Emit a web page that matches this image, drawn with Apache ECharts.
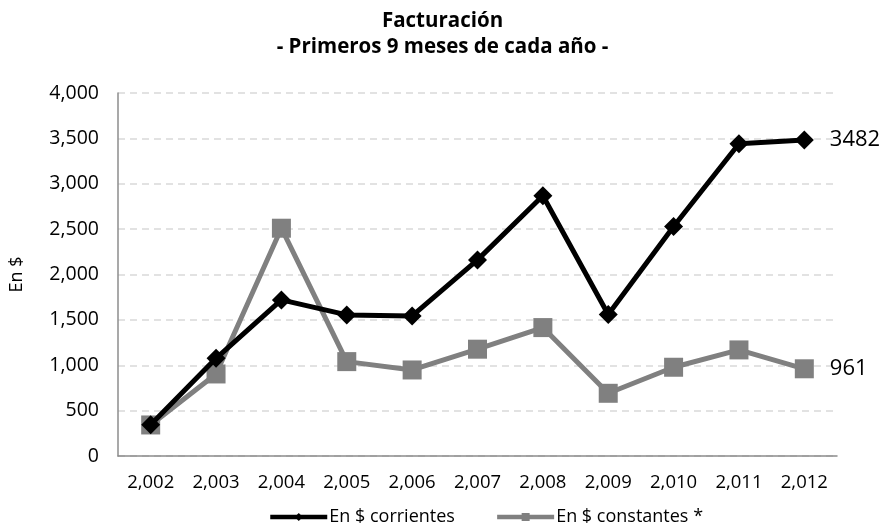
<!DOCTYPE html>
<html><head><meta charset="utf-8">
<script src="https://cdn.jsdelivr.net/npm/echarts@6/dist/echarts.min.js"></script>
<style>html,body{margin:0;padding:0;background:#fff}#c{width:885px;height:531px}</style>
</head><body><div id="c"></div>
<script>
const years = [2002, 2003, 2004, 2005, 2006, 2007, 2008, 2009, 2010, 2011, 2012];
const corrientes = [345, 1077, 1720, 1555, 1544, 2161, 2867, 1560, 2529, 3441, 3482];
const constantes = [342, 904, 2510, 1040, 948, 1177, 1415, 691, 978, 1169, 961];
const yTicks = [0, 500, 1000, 1500, 2000, 2500, 3000, 3500, 4000];
const titleText = 'Facturación\n- Primeros 9 meses de cada año -';
const yName = 'En $';
const names = ['En $ corrientes', 'En $ constantes *'];

const fmt = v => Number(v).toLocaleString('en-US');
const FONT = '"Open Sans", "Noto Sans", sans-serif';
const chart = echarts.init(document.getElementById('c'));
const lastLabel = () => ({
  show: true, position: 'right', distance: 16, fontSize: 22, color: '#000', fontFamily: FONT,
  formatter: p => p.dataIndex === years.length - 1 ? String(p.value) : ''
});
chart.setOption({
  animation: false,
  title: { text: titleText, left: 'center', top: 3,
    textStyle: { fontSize: 20.5, fontWeight: 'bold', color: '#000', fontFamily: FONT, lineHeight: 26 } },
  grid: { left: 115, right: 48, top: 93, bottom: 75, containLabel: false },
  legend: { bottom: 0, left: 263, itemWidth: 57, itemHeight: 10, itemGap: 40,
    textStyle: { fontSize: 18, color: '#000', fontFamily: FONT, padding: [0,0,0,-3] },
    lineStyle: { width: 4.5 },
    data: names },
  xAxis: { type: 'category', data: years, boundaryGap: true,
    axisLine: { lineStyle: { color: '#8c8c8c', width: 1.5 } }, axisTick: { show: false },
    axisLabel: { formatter: fmt, fontSize: 18.5, color: '#000', fontFamily: FONT, margin: 17 } },
  yAxis: { type: 'value', min: yTicks[0], max: yTicks[yTicks.length-1], interval: 500,
    name: yName, nameLocation: 'middle', nameGap: 92, nameRotate: 90,
    nameTextStyle: { fontSize: 18, color: '#000', fontFamily: FONT },
    axisLine: { show: true, lineStyle: { color: '#8c8c8c', width: 1.5 } }, axisTick: { show: false },
    axisLabel: { formatter: fmt, fontSize: 19.5, color: '#000', fontFamily: FONT, margin: 19 },
    splitLine: { lineStyle: { color: '#d9d9d9', type: [7, 5], width: 1.5 } } },
  series: [
    { name: names[0], type: 'line', data: corrientes, symbol: 'diamond', symbolSize: 19,
      itemStyle: { color: '#000' }, lineStyle: { color: '#000', width: 5 }, z: 3,
      label: lastLabel() },
    { name: names[1], type: 'line', data: constantes, symbol: 'rect', symbolSize: 19,
      itemStyle: { color: '#808080' }, lineStyle: { color: '#808080', width: 5 }, z: 2,
      label: lastLabel() }
  ]
});
</script></body></html>
